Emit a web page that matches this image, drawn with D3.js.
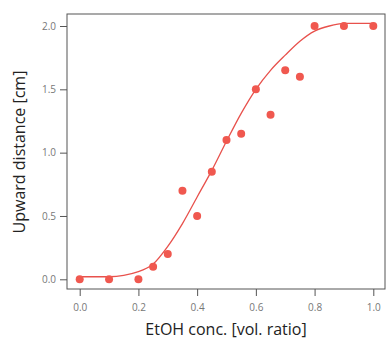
<!DOCTYPE html>
<html>
  <head>
    <meta charset="UTF-8" />
    <style>
      body {
        margin: 0;
        background-color: #fff;
      }
      text {
        font-family: 'Open Sans', sans-serif;
      }
    </style>
  </head>
  <body>
    <svg></svg>
    <script src="https://d3js.org/d3.v7.min.js"></script>
    <script>
      let width = 386,
        height = 344

      // measured points
      let concs = [0, 0.1, 0.2, 0.25, 0.3, 0.35, 0.4, 0.45, 0.5, 0.55, 0.6, 0.65, 0.7, 0.75, 0.8, 0.9, 1.0]
      let distances = [0, 0, 0, 0.1, 0.2, 0.7, 0.5, 0.85, 1.1, 1.15, 1.5, 1.3, 1.65, 1.6, 2.0, 2.0, 2.0]

      // fitted curve
      let fitX = [0, 0.1, 0.2, 0.25, 0.3, 0.35, 0.4, 0.45, 0.5, 0.55, 0.6, 0.65, 0.7, 0.75, 0.8, 0.85, 0.9, 1.0]
      let fitY = [0.02, 0.02, 0.06, 0.12, 0.26, 0.44, 0.65, 0.86, 1.09, 1.31, 1.5, 1.65, 1.77, 1.88, 1.96, 2.0, 2.02, 2.02]

      let xTicks = [0, 0.2, 0.4, 0.6, 0.8, 1.0]
      let yTicks = [0, 0.5, 1.0, 1.5, 2.0]

      let svg = d3.select('svg').attr('width', width).attr('height', height)

      let frame = { left: 67, right: 385, top: 14, bottom: 289 }

      let x = d3.scaleLinear().domain([0, 1]).range([79.7, 373.3])
      let y = d3.scaleLinear().domain([0, 2]).range([279.3, 26])

      // frame
      svg
        .append('rect')
        .attr('x', frame.left)
        .attr('y', frame.top)
        .attr('width', frame.right - frame.left)
        .attr('height', frame.bottom - frame.top)
        .attr('fill', 'none')
        .attr('stroke', '#555')
        .attr('stroke-width', 1)

      let xAxis = svg
        .append('g')
        .attr('transform', 'translate(0,' + frame.bottom + ')')
        .call(d3.axisBottom(x).tickValues(xTicks).tickFormat(d3.format('.1f')).tickSize(7).tickPadding(8))
      let yAxis = svg
        .append('g')
        .attr('transform', 'translate(' + frame.left + ',0)')
        .call(d3.axisLeft(y).tickValues(yTicks).tickFormat(d3.format('.1f')).tickSize(7).tickPadding(4))

      for (let ax of [xAxis, yAxis]) {
        ax.select('.domain').remove()
        ax.selectAll('line').attr('stroke', '#555')
        ax.selectAll('text').attr('fill', '#777').style('font-size', '10px')
      }

      // fit line
      let line = d3
        .line()
        .x((d, i) => x(fitX[i]))
        .y((d, i) => y(fitY[i]))
        .curve(d3.curveMonotoneX)

      svg
        .append('path')
        .datum(fitX)
        .attr('d', line)
        .attr('fill', 'none')
        .attr('stroke', '#e8514c')
        .attr('stroke-width', 1.3)

      svg
        .append('g')
        .selectAll('circle')
        .data(concs)
        .enter()
        .append('circle')
        .attr('cx', (d) => x(d))
        .attr('cy', (d, i) => y(distances[i]))
        .attr('r', 4)
        .attr('fill', '#f0584f')

      // axis titles
      svg
        .append('text')
        .attr('x', 226)
        .attr('y', 335)
        .attr('text-anchor', 'middle')
        .style('font-size', '16px')
        .attr('fill', '#222')
        .text('EtOH conc. [vol. ratio]')

      svg
        .append('text')
        .attr('transform', 'translate(25,152) rotate(-90)')
        .attr('text-anchor', 'middle')
        .style('font-size', '16px')
        .attr('fill', '#222')
        .text('Upward distance [cm]')
    </script>
  </body>
</html>
